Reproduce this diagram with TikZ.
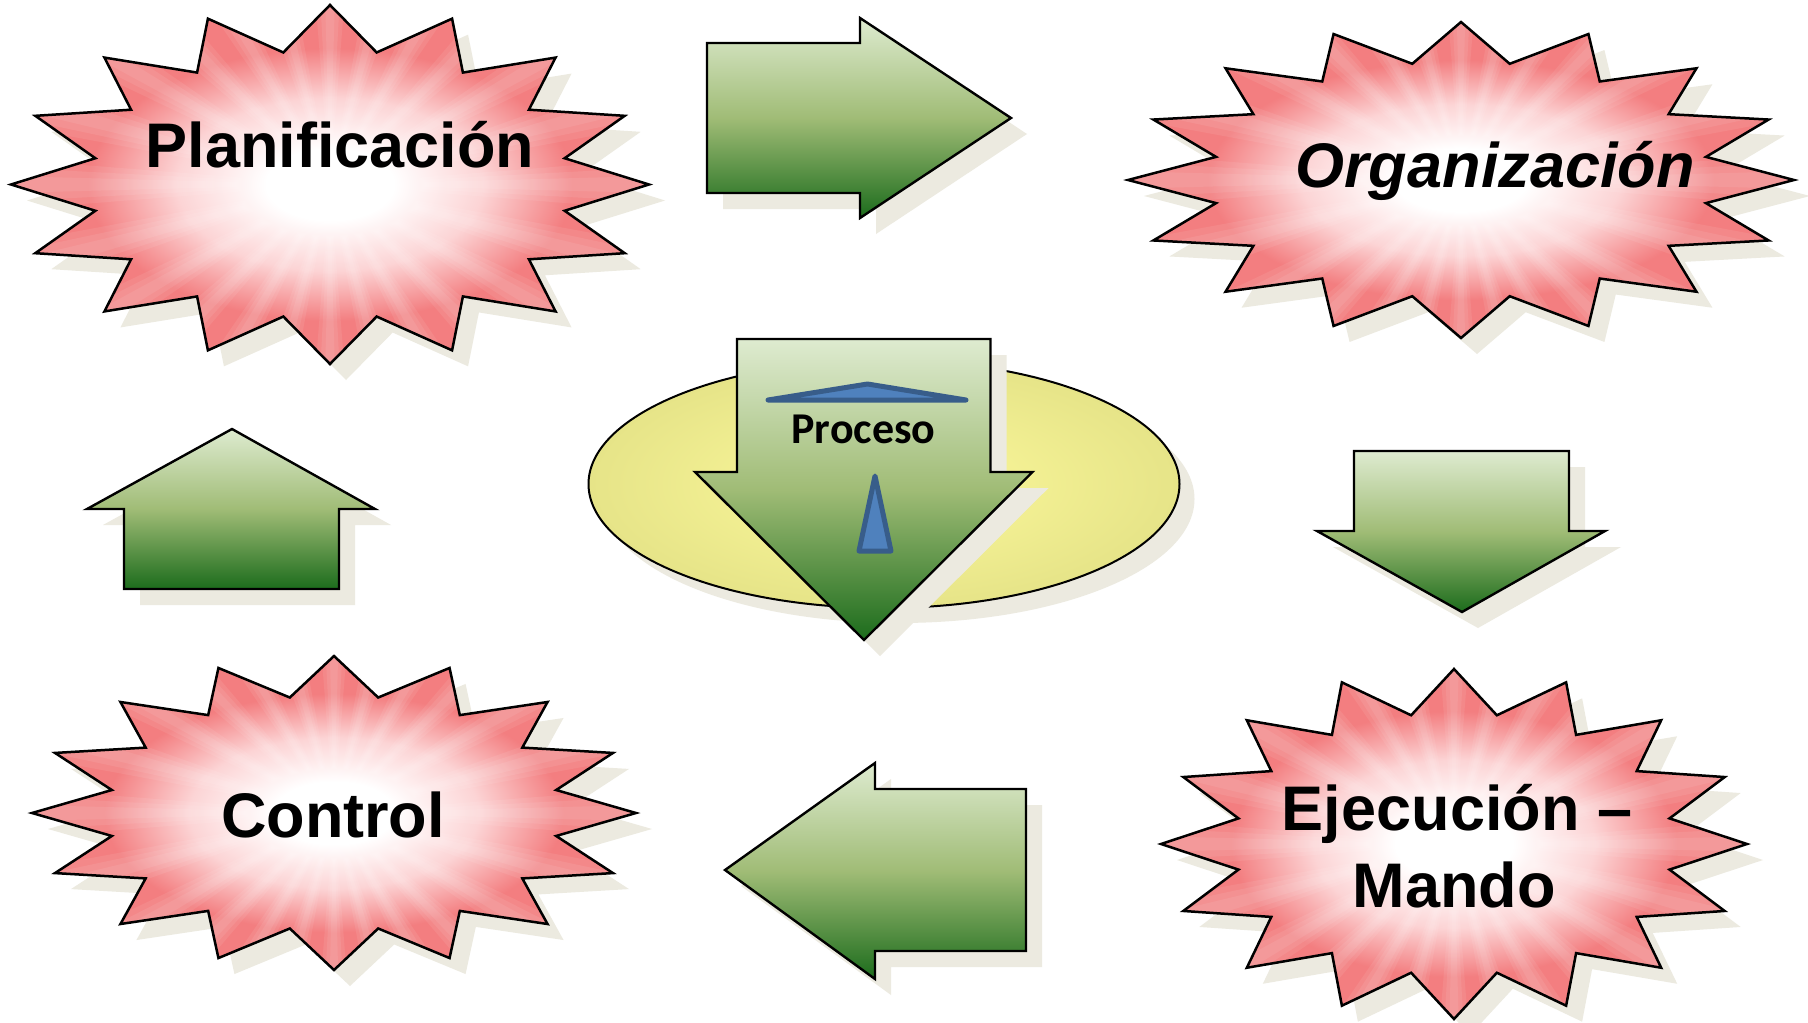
\documentclass[tikz,border=0pt]{standalone}
\usepackage{fontspec}
\newfontfamily\starfont{Liberation Sans}
\newfontfamily\procfont{Carlito}
\definecolor{starpink}{RGB}{243,126,128}
\definecolor{starmid}{RGB}{252,212,213}
\definecolor{ycenter}{RGB}{246,243,150}
\definecolor{yedge}{RGB}{230,228,136}
\definecolor{gtop}{RGB}{222,235,208}
\definecolor{gmid}{RGB}{160,188,118}
\definecolor{gbot}{RGB}{28,108,28}
\definecolor{shadowc}{RGB}{236,234,224}
\definecolor{bluefill}{RGB}{79,129,189}
\definecolor{bluedraw}{RGB}{56,93,138}
\pgfdeclareradialshading{burstshade}{\pgfpoint{0bp}{0bp}}{color(0bp)=(white); color(5bp)=(white); color(12bp)=(starmid); color(19bp)=(starpink); color(50bp)=(starpink)}
\pgfdeclareradialshading{yelshade}{\pgfpoint{0bp}{0bp}}{color(0bp)=(ycenter); color(8bp)=(ycenter); color(25bp)=(yedge); color(50bp)=(yedge)}
\tikzset{
  shadowsty/.style={fill=shadowc, draw=none, shift={(16,16)}},
  arrowsty/.style={top color=gtop, bottom color=gbot, middle color=gmid, draw=black, line width=2.4pt, line join=miter},
  burstline/.style={draw=black, line width=2.5pt, line join=miter},
  raysty/.style={fill=white, opacity=0.08},
  startext/.style={font=\starfont\bfseries\fontsize{63}{75}\selectfont, text=black, inner sep=0pt, anchor=base},
  bluesty/.style={fill=bluefill, draw=bluedraw, line width=5pt, line join=round},
}
\newcommand{\starplot}[2]{plot[samples at={0,...,31}, variable=\k]
    ({#1*(1-0.25*mod(\k,2))*cos(90+11.25*\k)}, {#2*(1-0.25*mod(\k,2))*sin(90+11.25*\k)}) -- cycle}
\newcommand{\burst}[4]{%
  \fill[shadowc, shift={(#1+16,#2+16)}] \starplot{#3}{#4};
  \shade[shading=burstshade, shift={(#1,#2)}] \starplot{#3}{#4};
  \begin{scope}[shift={(#1,#2)}]
    \clip \starplot{#3}{#4};
    \foreach \a in {0,15,...,345} {
      \foreach \w in {4.5,3,1.5} {\fill[raysty] (0,0) -- (\a-\w:700pt) -- (\a+\w:700pt) -- cycle;}
    }
  \end{scope}
  \draw[burstline, shift={(#1,#2)}] \starplot{#3}{#4};
}
\newcommand{\blockarrow}[1]{%
  \fill[shadowsty] #1;
  \shade[arrowsty] #1;
}
\begin{document}
\begin{tikzpicture}[x=1pt, y=-1pt]
\useasboundingbox (0,0) rectangle (1808,1023);
\fill[white] (0,0) rectangle (1808,1023);

% stars
\burst{330}{184.5}{319}{179.5}
\burst{1461}{180}{333}{158}
\burst{334}{813}{302}{157}
\burst{1454}{844}{293}{175}

\node[startext] (plan) at (340,167) {Planificación};
\node[startext, font=\starfont\bfseries\itshape\fontsize{63}{75}\selectfont] (org) at (1495,187) {Organización};
\node[startext] (ctrl) at (333,837) {Control};
\node[startext] (ejec) at (1457,830) {Ejecución –};
\node[startext] (mando) at (1454,907) {Mando};

% block arrows
\blockarrow{(707,43) -- (860,43) -- (860,18) -- (1011,118) -- (860,218) -- (860,193) -- (707,193) -- cycle}
\blockarrow{(232,429) -- (375,509) -- (339,509) -- (339,589) -- (124,589) -- (124,509) -- (87,509) -- cycle}
\blockarrow{(1354,451) -- (1569,451) -- (1569,531) -- (1605,531) -- (1462,612) -- (1317,531) -- (1354,531) -- cycle}
\blockarrow{(725,870) -- (875,763) -- (875,789) -- (1026,789) -- (1026,951) -- (875,951) -- (875,979) -- cycle}

% central ellipse
\fill[shadowc] (899,499) ellipse [x radius=295.5pt, y radius=124pt];
\shade[shading=yelshade, draw=black, line width=2pt] (884,484) ellipse [x radius=295.5pt, y radius=124pt];

% central arrow
\blockarrow{(737,339) -- (990.5,339) -- (990.5,472) -- (1032.5,472) -- (864,640) -- (695,472) -- (737,472) -- cycle}

\draw[bluesty] (768,400) -- (867.5,384) -- (966,400) -- cycle;
\draw[bluesty] (859,551) -- (875,476) -- (891,551) -- cycle;
\node[font=\procfont\bfseries\fontsize{44}{52}\selectfont, inner sep=0pt, anchor=base] (proc) at (863.5,443) {Proceso};
\end{tikzpicture}
\end{document}
